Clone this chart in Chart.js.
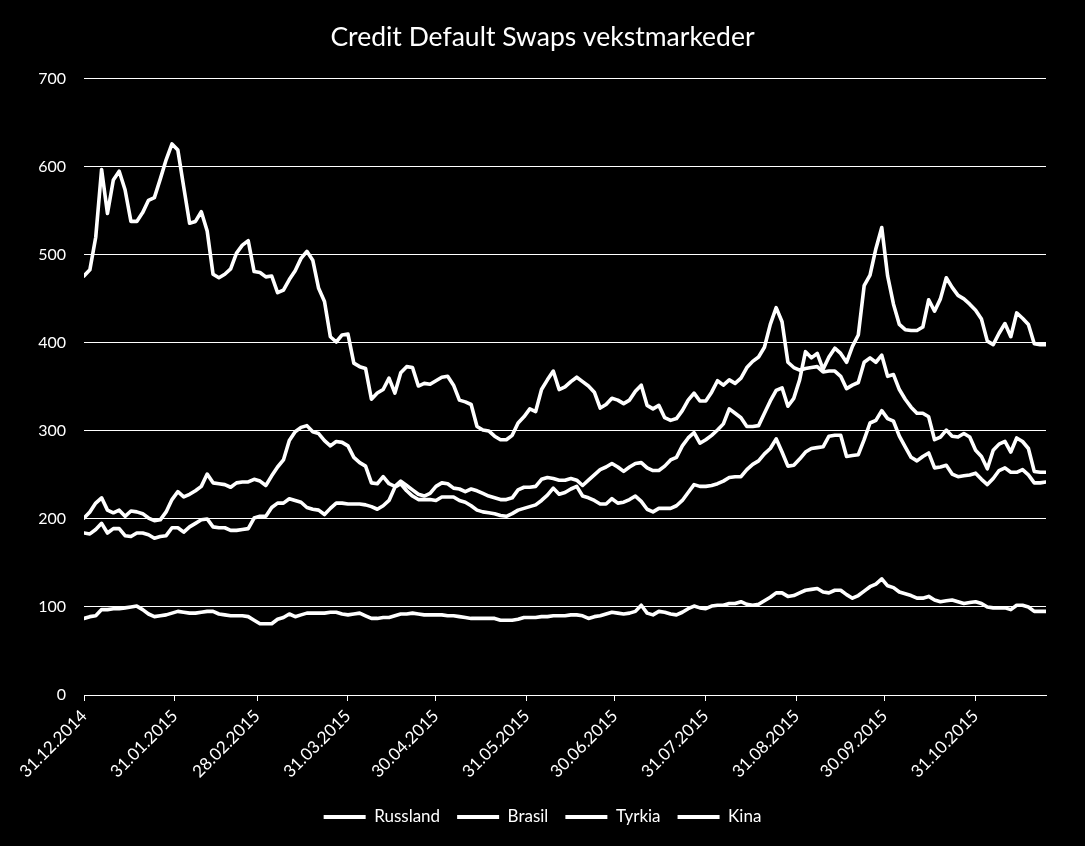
<!DOCTYPE html>
<html><head><meta charset="utf-8">
<script src="https://cdn.jsdelivr.net/npm/chart.js@4.4.1/dist/chart.umd.min.js"></script>
<style>html,body{margin:0;padding:0;background:#000;} #wrap{width:1085px;height:846px;position:relative;}</style>
</head><body><div id="wrap"><canvas id="c"></canvas></div>
<script>
const dates = ['31.12.2014',
'02.01.2015','04.01.2015','06.01.2015','08.01.2015','10.01.2015','12.01.2015','14.01.2015','16.01.2015','18.01.2015','20.01.2015','22.01.2015','24.01.2015','26.01.2015','28.01.2015','30.01.2015',
'01.02.2015','03.02.2015','05.02.2015','07.02.2015','09.02.2015','11.02.2015','13.02.2015','15.02.2015','17.02.2015','19.02.2015','21.02.2015','23.02.2015','25.02.2015','27.02.2015',
'01.03.2015','03.03.2015','05.03.2015','07.03.2015','09.03.2015','11.03.2015','13.03.2015','15.03.2015','17.03.2015','19.03.2015','21.03.2015','23.03.2015','25.03.2015','27.03.2015','29.03.2015','31.03.2015',
'02.04.2015','04.04.2015','06.04.2015','08.04.2015','10.04.2015','12.04.2015','14.04.2015','16.04.2015','18.04.2015','20.04.2015','22.04.2015','24.04.2015','26.04.2015','28.04.2015','30.04.2015',
'02.05.2015','04.05.2015','06.05.2015','08.05.2015','10.05.2015','12.05.2015','14.05.2015','16.05.2015','18.05.2015','20.05.2015','22.05.2015','24.05.2015','26.05.2015','28.05.2015','30.05.2015',
'01.06.2015','03.06.2015','05.06.2015','07.06.2015','09.06.2015','11.06.2015','13.06.2015','15.06.2015','17.06.2015','19.06.2015','21.06.2015','23.06.2015','25.06.2015','27.06.2015','29.06.2015',
'01.07.2015','03.07.2015','05.07.2015','07.07.2015','09.07.2015','11.07.2015','13.07.2015','15.07.2015','17.07.2015','19.07.2015','21.07.2015','23.07.2015','25.07.2015','27.07.2015','29.07.2015','31.07.2015',
'02.08.2015','04.08.2015','06.08.2015','08.08.2015','10.08.2015','12.08.2015','14.08.2015','16.08.2015','18.08.2015','20.08.2015','22.08.2015','24.08.2015','26.08.2015','28.08.2015','30.08.2015',
'01.09.2015','03.09.2015','05.09.2015','07.09.2015','09.09.2015','11.09.2015','13.09.2015','15.09.2015','17.09.2015','19.09.2015','21.09.2015','23.09.2015','25.09.2015','27.09.2015','29.09.2015',
'01.10.2015','03.10.2015','05.10.2015','07.10.2015','09.10.2015','11.10.2015','13.10.2015','15.10.2015','17.10.2015','19.10.2015','21.10.2015','23.10.2015','25.10.2015','27.10.2015','29.10.2015','31.10.2015',
'02.11.2015','04.11.2015','06.11.2015','08.11.2015','10.11.2015','12.11.2015','14.11.2015','16.11.2015','18.11.2015','20.11.2015','22.11.2015','24.11.2015'];

const russland = [476,483,520,597,547,585,595,574,538,538,
548,562,565,586,608,626,619,577,536,538,
549,527,478,474,478,484,502,511,516,481,
480,475,476,457,460,472,482,496,504,494,
462,447,407,401,409,410,377,373,371,336,
343,347,360,343,366,373,372,351,354,353,
357,361,362,352,335,333,330,305,301,300,
294,290,290,295,309,316,325,322,347,358,
368,347,350,356,361,356,351,344,326,330,
337,335,331,335,345,352,329,325,329,315,
312,314,323,335,343,334,334,344,357,352,
358,354,360,372,379,384,395,421,440,424,
378,372,369,371,372,373,367,368,368,362,
348,352,355,378,383,378,386,362,364,347,
336,327,320,320,316,290,293,301,294,293,
297,293,278,271,257,278,285,288,276,292,
288,280,254,253,253];

const brasil = [201,208,218,224,210,207,210,203,209,208,
206,201,198,199,208,222,231,225,228,232,
237,251,241,240,239,236,241,242,242,245,
243,238,249,259,267,289,299,304,306,299,
297,289,283,288,287,283,270,264,260,241,
240,248,240,237,243,238,233,228,226,229,
237,241,240,235,234,231,234,232,229,226,
224,222,222,224,233,236,236,237,245,247,
246,244,244,246,244,238,244,250,256,259,
263,259,254,259,263,264,258,255,255,260,
267,270,283,292,298,286,290,295,301,308,
325,320,315,305,305,306,320,334,346,349,
328,337,358,390,383,388,370,384,394,388,
378,396,409,465,477,507,531,476,444,421,
415,414,414,418,449,436,450,474,463,454,
450,444,437,427,402,398,411,422,407,434,
428,421,399,398,398];

const tyrkia = [184,183,188,195,184,189,189,181,180,184,
184,182,178,180,181,190,190,185,191,195,
199,200,191,190,190,187,187,188,189,201,
203,203,213,218,218,223,221,219,213,211,
210,205,212,218,218,217,217,217,216,214,
211,215,221,236,240,232,226,222,222,222,
221,225,225,225,221,219,215,210,208,207,
206,204,203,206,210,212,214,216,221,227,
235,228,230,234,237,226,224,221,217,217,
223,218,219,222,226,220,211,208,212,212,
212,215,221,230,239,237,237,238,240,243,
247,248,248,256,262,266,274,280,291,276,
260,261,268,276,280,281,282,294,295,295,
271,272,273,290,309,312,323,314,311,294,
282,270,266,271,275,258,259,261,251,248,
249,250,252,245,239,246,255,258,253,253,
256,250,241,241,242];

const kina = [87,89,90,97,97,98,98,99,100,101,
97,92,89,90,91,93,95,94,93,93,
94,95,95,92,91,90,90,90,89,85,
81,81,81,86,88,92,89,91,93,93,
93,93,94,94,92,91,92,93,90,87,
87,88,88,90,92,92,93,92,91,91,
91,91,90,90,89,88,87,87,87,87,
87,85,85,85,86,88,88,88,89,89,
90,90,90,91,91,90,87,89,90,92,
94,93,92,93,95,102,93,91,95,94,
92,91,94,98,101,99,98,101,102,102,
104,104,106,103,102,103,107,111,116,116,
112,113,116,119,120,121,117,116,119,119,
114,110,113,118,123,126,132,124,122,117,
115,113,110,110,112,108,106,107,108,106,
104,105,106,104,100,99,99,99,97,102,
102,100,95,95,95];

const tickLabels = ['31.12.2014','31.01.2015','28.02.2015','31.03.2015','30.04.2015','31.05.2015','30.06.2015','31.07.2015','31.08.2015','30.09.2015','31.10.2015'];
const seriesNames = ['Russland','Brasil','Tyrkia','Kina'];
const seriesValues = [russland, brasil, tyrkia, kina];
const titleText = 'Credit Default Swaps vekstmarkeder';

function toUTC(s){ const p = s.split('.').map(Number); return Date.UTC(p[2], p[1]-1, p[0]); }
const base = toUTC(dates[0]);
const dayOf = s => Math.round((toUTC(s) - base) / 86400000);
const days = dates.map(dayOf);
const tickDays = tickLabels.map(dayOf);

const FONT = 'Lato';
const WHITE = '#ffffff';

const datasets = seriesNames.map((name, k) => ({
  label: name,
  data: seriesValues[k].map((v, i) => ({x: days[i], y: v})),
  borderColor: WHITE,
  backgroundColor: WHITE,
  borderWidth: 3.6,
  pointRadius: 0,
  tension: 0,
  borderJoinStyle: 'round',
  borderCapStyle: 'round'
}));

new Chart(document.getElementById('c'), {
  type: 'line',
  data: { datasets },
  options: {
    responsive: true,
    maintainAspectRatio: false,
    animation: false,
    layout: { padding: { left: 0, right: 0, top: 0, bottom: 10.5 } },
    plugins: {
      title: {
        display: true, text: titleText, color: WHITE,
        font: { family: FONT, size: 26.5, weight: 'normal' },
        padding: { top: 22, bottom: 25 }
      },
      legend: {
        position: 'bottom',
        labels: {
          color: WHITE, font: { family: FONT, size: 17 },
          boxWidth: 42, boxHeight: 4, padding: 17,
          generateLabels: chart => Chart.defaults.plugins.legend.labels.generateLabels(chart).map(l => Object.assign(l, {lineWidth: 0, fillStyle: WHITE}))
        }
      },
      tooltip: { enabled: false }
    },
    scales: {
      x: {
        type: 'linear', min: 0, max: days[days.length - 1],
        afterBuildTicks: s => { s.ticks = tickDays.map(v => ({ value: v })); },
        afterFit: s => { s.height = 96.5; },
        ticks: {
          autoSkip: false, maxRotation: 45, minRotation: 45, padding: 5,
          color: WHITE, font: { family: FONT, size: 17 },
          callback: (v, i) => tickLabels[i]
        },
        grid: { display: true, drawOnChartArea: false, drawTicks: true, tickLength: 6, color: WHITE, lineWidth: 1 },
        border: { display: true, color: WHITE, width: 1 }
      },
      y: {
        min: 0, max: 700,
        afterFit: s => { s.width = 84; },
        ticks: { stepSize: 100, padding: 18, color: WHITE, font: { family: FONT, size: 16 } },
        grid: { color: WHITE, lineWidth: 1, drawTicks: false },
        border: { display: false }
      },
      yRight: {
        position: 'right', min: 0, max: 700,
        afterFit: s => { s.width = 39; },
        ticks: { display: false },
        grid: { display: false, drawTicks: false },
        border: { display: false }
      }
    }
  }
});
</script></body></html>
